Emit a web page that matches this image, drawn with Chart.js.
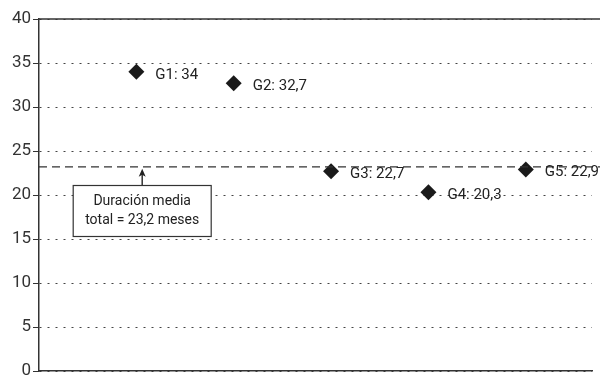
<!DOCTYPE html>
<html lang="es">
<head>
<meta charset="UTF-8">
<script src="https://cdn.jsdelivr.net/npm/chart.js"></script>
<title>Duración media por grupo</title>
<style>
  html, body { margin: 0; padding: 0; background: #fff; overflow: hidden; }
  #wrap { width: 600px; height: 375px; overflow: hidden; }
</style>
</head>
<body>
<div id="wrap"><canvas id="chart" width="600" height="379"></canvas></div>
<script>
// data
const groups = ['G1', 'G2', 'G3', 'G4', 'G5'];
const months = [34, 32.7, 22.7, 20.3, 22.9];
const meanMonths = 23.2;
const meanNote = ['Duración media', 'total = 23,2 meses'];
const yTicks = [0, 5, 10, 15, 20, 25, 30, 35, 40];

const ink = '#222';
const fmt = v => String(v).replace('.', ',');

// draws the top border, mean line, point labels and the note box
const extras = {
  id: 'extras',
  afterDatasetsDraw(chart) {
    const ctx = chart.ctx;
    const area = chart.chartArea;
    const x = chart.scales.x, y = chart.scales.y;
    ctx.save();

    // solid top line
    ctx.strokeStyle = '#333';
    ctx.lineWidth = 1.5;
    ctx.beginPath();
    ctx.moveTo(area.left, y.getPixelForValue(40));
    ctx.lineTo(600, y.getPixelForValue(40));
    ctx.stroke();

    // mean line
    const my = y.getPixelForValue(meanMonths);
    ctx.setLineDash([8, 5]);
    ctx.lineWidth = 1.2;
    ctx.beginPath();
    ctx.moveTo(area.left, my);
    ctx.lineTo(600, my);
    ctx.stroke();
    ctx.setLineDash([]);

    // point labels
    ctx.fillStyle = ink;
    ctx.font = '15px Roboto, "DejaVu Sans Condensed", sans-serif';
    ctx.textBaseline = 'middle';
    ctx.textAlign = 'left';
    const pts = chart.getDatasetMeta(0).data;
    pts.forEach((p, i) => {
      ctx.fillText(groups[i] + ': ' + fmt(months[i]), p.x + 19, p.y + 3);
    });

    // note box with arrow
    const cx = x.getPixelForValue(1.06);
    const bw = 138, bh = 51;
    const top = Math.round(my + 18) + 0.5;
    ctx.fillStyle = '#fff';
    ctx.fillRect(cx - bw / 2, top, bw, bh);
    ctx.strokeStyle = '#333';
    ctx.lineWidth = 1.2;
    ctx.strokeRect(cx - bw / 2, top, bw, bh);
    ctx.fillStyle = ink;
    ctx.font = '14px Roboto, "DejaVu Sans Condensed", sans-serif';
    ctx.textAlign = 'center';
    ctx.fillText(meanNote[0], cx, top + 16);
    ctx.fillText(meanNote[1], cx, top + 35);

    ctx.lineWidth = 1.5;
    ctx.beginPath();
    ctx.moveTo(cx, top);
    ctx.lineTo(cx, my + 6);
    ctx.stroke();
    ctx.beginPath();
    ctx.moveTo(cx, my + 2);
    ctx.lineTo(cx - 3.5, my + 10);
    ctx.lineTo(cx, my + 8);
    ctx.lineTo(cx + 3.5, my + 10);
    ctx.closePath();
    ctx.fill();

    ctx.restore();
  }
};

function noPad(s) {
  s.paddingTop = 0; s.paddingBottom = 0;
  s.paddingLeft = 0; s.paddingRight = 0;
}

new Chart(document.getElementById('chart'), {
  type: 'scatter',
  data: {
    datasets: [{
      data: months.map((v, i) => ({ x: i + 1, y: v })),
      pointStyle: 'rectRot',
      pointRadius: 8,
      pointHoverRadius: 8,
      backgroundColor: '#1a1a1a',
      borderColor: '#1a1a1a',
      borderWidth: 0
    }]
  },
  options: {
    responsive: false,
    animation: false,
    layout: { padding: { top: 19, right: 0, bottom: 0, left: 0 } },
    plugins: { legend: { display: false }, tooltip: { enabled: false } },
    scales: {
      x: {
        type: 'linear',
        min: 0,
        max: 5.68,
        afterFit: s => { s.height = 0; noPad(s); },
        ticks: { display: false },
        grid: { display: false, drawTicks: false },
        border: { display: true, color: '#333', width: 1.5 }
      },
      y: {
        min: 0,
        max: 40,
        afterBuildTicks: s => { s.ticks = yTicks.map(v => ({ value: v })); },
        afterFit: s => { s.width = 39; noPad(s); },
        ticks: {
          color: '#333',
          padding: 2,
          font: { family: 'Roboto, "DejaVu Sans Condensed", sans-serif', size: 17 }
        },
        grid: {
          color: '#444',
          lineWidth: 1,
          tickLength: 6,
          tickColor: '#333',
          tickBorderDash: [],
          drawOnChartArea: true
        },
        border: { display: true, color: '#333', width: 1.5, dash: [2, 6] }
      }
    }
  },
  plugins: [extras]
});
</script>
</body>
</html>
